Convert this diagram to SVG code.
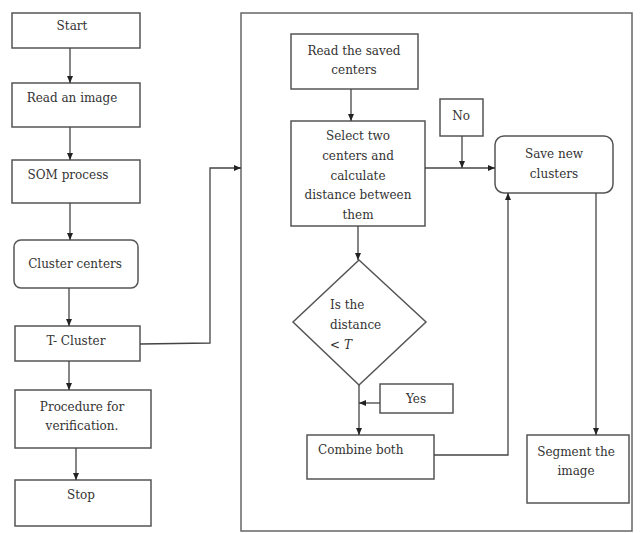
<svg xmlns="http://www.w3.org/2000/svg" width="640" height="533" viewBox="0 0 640 533">
<defs>
<marker id="ah" markerWidth="8" markerHeight="8" refX="7" refY="4" orient="auto" markerUnits="userSpaceOnUse">
<path d="M0,1 L7,4 L0,7 Z" fill="#222"/>
</marker>
<style>
.box{fill:#fff;stroke:#555;stroke-width:1.5}
.ln{fill:none;stroke:#444;stroke-width:1.3}
text{font-family:'DejaVu Serif','Liberation Serif',serif;font-size:12px;fill:#333}
.t{text-anchor:middle}
.tl{text-anchor:start}
</style>
</defs>
<rect width="640" height="533" fill="#fff"/>
<g id="frame"><rect x="241" y="13" width="391" height="518" fill="none" stroke="#666" stroke-width="1.5"/></g>
<g id="start"><rect class="box" x="12" y="13" width="128" height="35"/><text class="t" x="72" y="30">Start</text></g>
<g id="read"><rect class="box" x="12" y="83" width="128" height="44"/><text class="t" x="72" y="102">Read an image</text></g>
<g id="som"><rect class="box" x="12" y="160" width="128" height="43"/><text class="t" x="68" y="179">SOM process</text></g>
<g id="cc"><rect class="box" x="14" y="240" width="124" height="48" rx="7"/><text class="t" x="75" y="268">Cluster centers</text></g>
<g id="tc"><rect class="box" x="15" y="326" width="125" height="35"/><text class="t" x="76" y="345">T- Cluster</text></g>
<g id="proc"><rect class="box" x="15" y="390" width="136" height="58"/><text class="t" x="82" y="411">Procedure for</text><text class="t" x="82" y="430">verification.</text></g>
<g id="stop"><rect class="box" x="15" y="480" width="136" height="46"/><text class="t" x="81" y="499">Stop</text></g>
<g id="rsc"><rect class="box" x="291" y="34" width="127" height="55"/><text class="t" x="354" y="55">Read the saved</text><text class="t" x="354" y="74">centers</text></g>
<g id="sel"><rect class="box" x="291" y="121" width="134" height="105"/><text class="t" x="358" y="140">Select two</text><text class="t" x="358" y="160">centers and</text><text class="t" x="358" y="180">calculate</text><text class="t" x="358" y="199">distance between</text><text class="t" x="358" y="219">them</text></g>
<g id="no"><rect class="box" x="440" y="99" width="43" height="37"/><text class="t" x="461" y="120">No</text></g>
<g id="save"><rect class="box" x="495" y="136" width="118" height="57" rx="9"/><text class="t" x="554" y="158">Save new</text><text class="t" x="554" y="178">clusters</text></g>
<g id="dec"><polygon class="box" points="359,260 426,322 359,385 293,322"/><text class="tl" x="330" y="309">Is the</text><text class="tl" x="330" y="329">distance</text><text class="tl" x="330" y="349">&lt;   <tspan font-style="italic">T</tspan></text></g>
<g id="yes"><rect class="box" x="380" y="384" width="73" height="29"/><text class="t" x="416" y="403">Yes</text></g>
<g id="comb"><rect class="box" x="307" y="435" width="127" height="44"/><text class="tl" x="318" y="454">Combine both</text></g>
<g id="seg"><rect class="box" x="527" y="435" width="102" height="68"/><text class="t" x="576" y="456">Segment the</text><text class="t" x="576" y="475">image</text></g>
<g id="connectors">
<line class="ln" x1="70" y1="48" x2="70" y2="83" marker-end="url(#ah)"/>
<line class="ln" x1="70" y1="127" x2="70" y2="160" marker-end="url(#ah)"/>
<line class="ln" x1="70" y1="203" x2="70" y2="240" marker-end="url(#ah)"/>
<line class="ln" x1="69" y1="288" x2="69" y2="326" marker-end="url(#ah)"/>
<line class="ln" x1="69" y1="361" x2="69" y2="390" marker-end="url(#ah)"/>
<line class="ln" x1="76" y1="448" x2="76" y2="480" marker-end="url(#ah)"/>
<polyline class="ln" points="140,344 210,343 210,168 241,168" marker-end="url(#ah)"/>
<line class="ln" x1="351" y1="89" x2="351" y2="121" marker-end="url(#ah)"/>
<line class="ln" x1="425" y1="168" x2="495" y2="168" marker-end="url(#ah)"/>
<line class="ln" x1="462" y1="136" x2="462" y2="168" marker-end="url(#ah)"/>
<line class="ln" x1="358" y1="226" x2="358" y2="260" marker-end="url(#ah)"/>
<line class="ln" x1="359" y1="385" x2="359" y2="435" marker-end="url(#ah)"/>
<line class="ln" x1="380" y1="403" x2="359" y2="403" marker-end="url(#ah)"/>
<polyline class="ln" points="434,455 508,455 508,193" marker-end="url(#ah)"/>
<line class="ln" x1="596" y1="193" x2="596" y2="435" stroke-width="2" marker-end="url(#ah)"/>
</g>
</svg>
